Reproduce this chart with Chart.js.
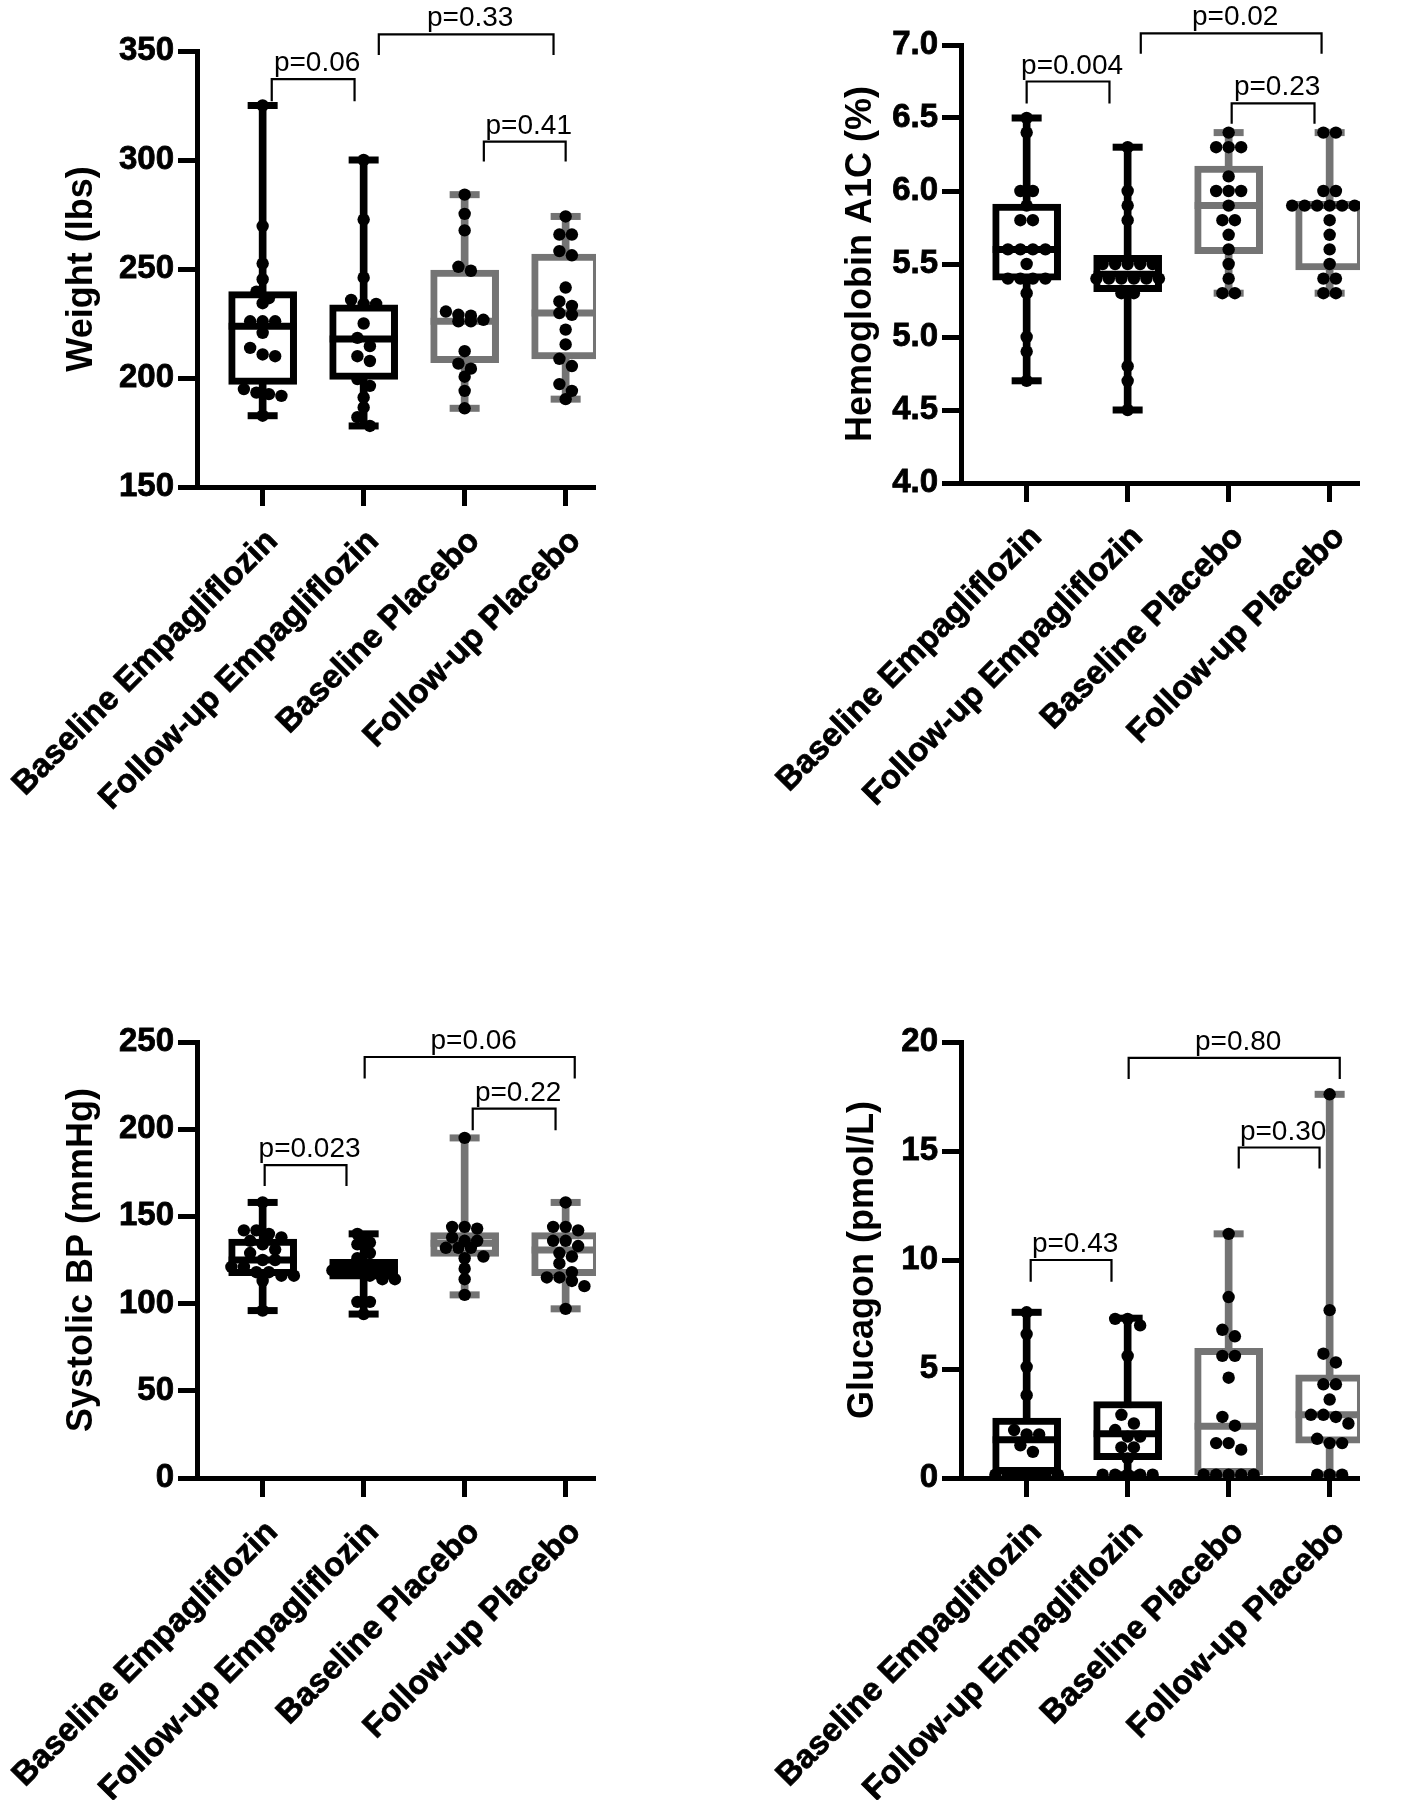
<!DOCTYPE html>
<html>
<head>
<meta charset="utf-8">
<script src="https://cdn.jsdelivr.net/npm/chart.js@4.4.1/dist/chart.umd.min.js"></script>
<style>
html,body{margin:0;padding:0;background:#ffffff;}
body{width:1407px;height:1800px;position:relative;overflow:hidden;}
canvas{position:absolute;}
</style>
</head>
<body>
<canvas id="c1"></canvas>
<canvas id="c2"></canvas>
<canvas id="c3"></canvas>
<canvas id="c4"></canvas>
<script>
// ---------------- DATA ----------------
const categories = ['Baseline Empagliflozin', 'Follow-up Empagliflozin', 'Baseline Placebo', 'Follow-up Placebo'];

// Weight (lbs)
const weightTicks = [150, 200, 250, 300, 350];
const weightBaselineEmpa = [325, 269.7, 252.5, 245.3, 239.6, 236.6, 234.3, 226, 226, 226, 220.7, 213.8, 210, 210.8, 194.9, 192.6, 193.3, 191.8, 182.7];
const weightFollowupEmpa = [300, 272.7, 246, 235.8, 234, 234, 225, 218.4, 214.6, 210, 207.8, 199.5, 196.4, 191.1, 186.5, 182, 178];
const weightBaselinePlacebo = [284.1, 275.3, 267.7, 251, 249.2, 230.5, 226, 226.7, 226, 228.6, 229, 212.3, 206.6, 204.3, 200.6, 194.1, 186.1];
const weightFollowupPlacebo = [274.1, 265.8, 265.8, 256.3, 258.2, 241.5, 235.1, 233.1, 229.8, 229, 222.2, 215.4, 208.8, 205.5, 197.2, 194.1, 190.3];
const weightMin = [182.7, 178, 186.1, 190.3];
const weightQ1 = [197.1, 199.4, 207, 208.8];
const weightMedian = [223.7, 217.9, 226, 229.8];
const weightQ3 = [239.6, 233.6, 249.5, 256.8];
const weightMax = [325, 300, 284.1, 274.1];
const weightPLabels = ['p=0.06', 'p=0.33', 'p=0.41'];
const weightPFrom = [1.09, 2.15, 3.19];
const weightPTo = [1.91, 3.88, 4.0];
const weightPBar = [337.1, 357.6, 308.4];
const weightPLeg = [326.9, 348.2, 299.3];

// Hemoglobin A1C (%)
const a1cTicks = [4.0, 4.5, 5.0, 5.5, 6.0, 6.5, 7.0];
const a1cBaselineEmpa = [6.5, 6.4, 6.0, 6.0, 5.9, 5.8, 5.8, 5.6, 5.6, 5.6, 5.6, 5.5, 5.4, 5.4, 5.4, 5.4, 5.3, 5.0, 4.9, 4.7];
const a1cFollowupEmpa = [6.3, 6.0, 5.9, 5.8, 5.5, 5.5, 5.5, 5.5, 5.5, 5.4, 5.4, 5.4, 5.4, 5.4, 5.4, 5.3, 5.3, 4.8, 4.7, 4.5];
const a1cBaselinePlacebo = [6.4, 6.3, 6.3, 6.3, 6.1, 6.0, 6.0, 6.0, 5.9, 5.8, 5.8, 5.7, 5.6, 5.5, 5.4, 5.3, 5.3];
const a1cFollowupPlacebo = [6.4, 6.4, 6.0, 6.0, 5.9, 5.9, 5.9, 5.9, 5.9, 5.9, 5.9, 5.8, 5.7, 5.6, 5.5, 5.4, 5.4, 5.3, 5.3];
const a1cMin = [4.7, 4.5, 5.3, 5.3];
const a1cQ1 = [5.39, 5.31, 5.57, 5.46];
const a1cMedian = [5.6, 5.43, 5.9, 5.9];
const a1cQ3 = [5.91, 5.56, 6.17, 5.93];
const a1cMax = [6.5, 6.3, 6.4, 6.4];
const a1cPLabels = ['p=0.004', 'p=0.02', 'p=0.23'];
const a1cPFrom = [1.0, 2.13, 3.03];
const a1cPTo = [1.82, 3.92, 3.85];
const a1cPBar = [6.75, 7.08, 6.60];
const a1cPLeg = [6.60, 6.94, 6.46];

// Systolic BP (mmHg)
const bpTicks = [0, 50, 100, 150, 200, 250];
const bpBaselineEmpa = [158, 142, 142, 140, 138, 136, 134, 131, 129, 125, 125, 121, 121, 118, 118, 116, 116, 113, 96];
const bpFollowupEmpa = [140, 135, 134, 129, 126, 122, 119, 119, 118, 116, 114, 114, 101, 101, 94];
const bpBaselinePlacebo = [195, 144, 144, 143, 138, 136, 136, 132, 132, 132, 127, 126, 120, 114, 105];
const bpFollowupPlacebo = [158, 144, 144, 142, 136, 136, 133, 129, 127, 123, 118, 115, 115, 113, 110, 97];
const bpMin = [96, 94, 105, 97];
const bpQ1 = [116, 114, 127, 116];
const bpMedian = [125, 119.5, 134.6, 130.8];
const bpQ3 = [137, 125.4, 140.7, 140.7];
const bpMax = [158, 140, 195, 158];
const bpPLabels = ['p=0.023', 'p=0.06', 'p=0.22'];
const bpPFrom = [1.02, 2.01, 3.08];
const bpPTo = [1.83, 4.09, 3.9];
const bpPBar = [179.4, 241.4, 211.8];
const bpPLeg = [167.4, 229, 199.4];

// Glucagon (pmol/L)
const gluTicks = [0, 5, 10, 15, 20];
const gluBaselineEmpa = [7.6, 6.6, 5.1, 3.8, 2.2, 2.0, 2.0, 1.5, 1.2, 0.15, 0.15, 0.15, 0.15, 0.15, 0.15];
const gluFollowupEmpa = [7.3, 7.3, 7.0, 5.6, 2.9, 2.5, 2.2, 1.9, 1.9, 1.4, 1.4, 0.9, 0.15, 0.15, 0.15, 0.15, 0.15];
const gluBaselinePlacebo = [11.2, 8.3, 6.8, 6.5, 5.6, 5.6, 4.6, 2.8, 2.4, 1.6, 1.6, 1.3, 0.15, 0.15, 0.15, 0.15, 0.15];
const gluFollowupPlacebo = [17.6, 7.7, 5.7, 5.3, 4.3, 4.3, 3.6, 2.9, 2.9, 2.8, 2.5, 1.8, 1.6, 1.6, 0.15, 0.15, 0.15];
const gluMin = [0.15, 0.15, 0.15, 0.15];
const gluQ1 = [0.2, 0.84, 0.15, 1.6];
const gluMedian = [1.76, 2.03, 2.37, 2.9];
const gluQ3 = [2.75, 3.51, 5.95, 4.73];
const gluMax = [7.6, 7.33, 11.2, 17.6];
const gluPLabels = ['p=0.43', 'p=0.80', 'p=0.30'];
const gluPFrom = [1.04, 2.01, 3.1];
const gluPTo = [1.84, 4.1, 3.9];
const gluPBar = [10.0, 19.27, 15.16];
const gluPLeg = [9.0, 18.3, 14.2];

// ---------------- STYLE / LAYOUT ----------------
const FONT = "'Liberation Sans', Arial, Helvetica, sans-serif";
const BLACK = '#000000';
const GRAY = '#747474';
const groupColors = [BLACK, BLACK, GRAY, GRAY];
const DOT_R = 6.2;
const DOT_SPACING = 12.5;
const LINE_W = 7;
const X_MIN = 0.35, X_MAX = 4.3, CAT_PX = 101;

function swarm(values, center, pxPerY, catPx) {
  const order = values.map((v, i) => i).sort((a, b) => values[b] - values[a]);
  const xs = new Array(values.length);
  let row = [];
  let rowTop = null;
  const flush = () => {
    const n = row.length;
    row.forEach((idx, j) => { xs[idx] = center + (j - (n - 1) / 2) * DOT_SPACING / catPx; });
    row = [];
  };
  for (const idx of order) {
    const py = values[idx] * pxPerY;
    if (row.length && (rowTop - py) > DOT_SPACING * 0.7) flush();
    if (!row.length) rowTop = py;
    row.push(idx);
  }
  flush();
  return values.map((v, i) => ({ x: xs[i], y: v }));
}

function buildPanel(id, P) {
  const cv = document.getElementById(id);
  cv.style.left = P.cl + 'px';
  cv.style.top = P.ct + 'px';
  cv.style.width = P.cw + 'px';
  cv.style.height = P.ch + 'px';
  cv.width = P.cw;
  cv.height = P.ch;
  const pr = P.pl + (X_MAX - X_MIN) * CAT_PX;
  const pxPerY = (P.pb - P.pt) / (P.ymax - P.ymin);

  const datasets = [];
  datasets.push({
    type: 'bar', order: 5, grouped: false, barThickness: LINE_W,
    data: P.mins.map((m, i) => ({ x: i + 1, y: [m, P.maxs[i]] })),
    backgroundColor: groupColors, borderWidth: 0
  });
  datasets.push({
    type: 'scatter', order: 4,
    data: P.mins.map((m, i) => ({ x: i + 1, y: m })).concat(P.maxs.map((m, i) => ({ x: i + 1, y: m }))),
    pointStyle: 'line', pointRadius: 15, pointBorderWidth: LINE_W,
    pointBorderColor: groupColors.concat(groupColors)
  });
  datasets.push({
    type: 'bar', order: 3, grouped: false, barThickness: 68,
    data: P.q1.map((q, i) => ({ x: i + 1, y: [q, P.q3[i]] })),
    backgroundColor: '#ffffff', borderColor: groupColors, borderWidth: LINE_W, borderSkipped: false
  });
  datasets.push({
    type: 'scatter', order: 2,
    data: P.med.map((m, i) => ({ x: i + 1, y: m })),
    pointStyle: 'line', pointRadius: 34, pointBorderWidth: LINE_W, pointBorderColor: groupColors
  });
  P.groups.forEach((g, i) => {
    datasets.push({
      type: 'scatter', order: 1,
      data: swarm(g, i + 1, pxPerY, CAT_PX),
      pointStyle: 'circle', pointRadius: DOT_R, pointBorderWidth: 0, pointBackgroundColor: BLACK
    });
  });

  const bracketPlugin = {
    id: 'brackets' + id,
    afterDraw(chart) {
      const { ctx } = chart;
      const xs = chart.scales.x, ys = chart.scales.y;
      ctx.save();
      ctx.strokeStyle = BLACK;
      ctx.lineWidth = 2.2;
      ctx.fillStyle = BLACK;
      ctx.font = '28px ' + FONT;
      ctx.textAlign = 'center';
      ctx.textBaseline = 'alphabetic';
      P.pLabels.forEach((lab, i) => {
        const x1 = xs.getPixelForValue(P.pFrom[i]);
        const x2 = xs.getPixelForValue(P.pTo[i]);
        const yb = ys.getPixelForValue(P.pBar[i]);
        const yl = ys.getPixelForValue(P.pLeg[i]);
        ctx.beginPath();
        ctx.moveTo(x1, yl); ctx.lineTo(x1, yb); ctx.lineTo(x2, yb); ctx.lineTo(x2, yl);
        ctx.stroke();
        ctx.fillText(lab, (x1 + x2) / 2 + 4, yb - 8);
      });
      ctx.restore();
    }
  };

  const axisGrid = { display: true, drawOnChartArea: false, drawTicks: true, tickLength: 19, tickWidth: 5, tickColor: BLACK };
  const axisBorder = { display: true, color: BLACK, width: 5 };

  new Chart(cv, {
    type: 'scatter',
    data: { datasets },
    options: {
      responsive: false, animation: false, devicePixelRatio: 1, events: [],
      layout: { padding: { left: 0, top: P.pt - P.ct, right: P.cl + P.cw - pr, bottom: 0 } },
      plugins: { legend: { display: false }, tooltip: { enabled: false } },
      scales: {
        x: {
          type: 'linear', min: X_MIN, max: X_MAX, offset: false,
          afterBuildTicks: s => { s.ticks = categories.map((c, i) => ({ value: i + 1 })); },
          afterFit: s => { s.height = P.ct + P.ch - P.pb; s.paddingLeft = 0; s.paddingRight = 0; },
          ticks: {
            autoSkip: false, minRotation: 45, maxRotation: 45, padding: 16, labelOffset: 10,
            color: BLACK, font: { family: FONT, size: 33, weight: 'bold' },
            textStrokeColor: BLACK, textStrokeWidth: 0.8,
            callback: v => categories[Math.round(v) - 1]
          },
          grid: Object.assign({}, axisGrid, { offset: false }),
          border: axisBorder
        },
        y: {
          type: 'linear', min: P.ymin, max: P.ymax,
          afterBuildTicks: s => { s.ticks = P.yticks.map(v => ({ value: v })); },
          afterFit: s => { s.width = P.pl - P.cl; },
          ticks: {
            padding: 4, color: BLACK, font: { family: FONT, size: 33, weight: 'bold' },
            textStrokeColor: BLACK, textStrokeWidth: 0.8,
            callback: v => Number(v).toFixed(P.dec)
          },
          grid: axisGrid,
          border: axisBorder,
          title: {
            display: true, text: P.title, color: BLACK,
            font: { family: FONT, size: 36, weight: 'bold' },
            padding: { top: P.titleX - P.cl - 21.6, bottom: 0 }
          }
        }
      }
    },
    plugins: [bracketPlugin]
  });
}

buildPanel('c1', {
  cl: 0, ct: 0, cw: 700, ch: 880, pl: 197, pt: 51, pb: 487,
  ymin: 150, ymax: 350, yticks: weightTicks, dec: 0, title: 'Weight (lbs)', titleX: 82,
  groups: [weightBaselineEmpa, weightFollowupEmpa, weightBaselinePlacebo, weightFollowupPlacebo],
  mins: weightMin, q1: weightQ1, med: weightMedian, q3: weightQ3, maxs: weightMax,
  pLabels: weightPLabels, pFrom: weightPFrom, pTo: weightPTo, pBar: weightPBar, pLeg: weightPLeg
});
buildPanel('c2', {
  cl: 704, ct: 0, cw: 703, ch: 880, pl: 961, pt: 45, pb: 483,
  ymin: 4.0, ymax: 7.0, yticks: a1cTicks, dec: 1, title: 'Hemoglobin A1C (%)', titleX: 861,
  groups: [a1cBaselineEmpa, a1cFollowupEmpa, a1cBaselinePlacebo, a1cFollowupPlacebo],
  mins: a1cMin, q1: a1cQ1, med: a1cMedian, q3: a1cQ3, maxs: a1cMax,
  pLabels: a1cPLabels, pFrom: a1cPFrom, pTo: a1cPTo, pBar: a1cPBar, pLeg: a1cPLeg
});
buildPanel('c3', {
  cl: 0, ct: 900, cw: 700, ch: 900, pl: 197, pt: 1042, pb: 1478,
  ymin: 0, ymax: 250, yticks: bpTicks, dec: 0, title: 'Systolic BP (mmHg)', titleX: 82,
  groups: [bpBaselineEmpa, bpFollowupEmpa, bpBaselinePlacebo, bpFollowupPlacebo],
  mins: bpMin, q1: bpQ1, med: bpMedian, q3: bpQ3, maxs: bpMax,
  pLabels: bpPLabels, pFrom: bpPFrom, pTo: bpPTo, pBar: bpPBar, pLeg: bpPLeg
});
buildPanel('c4', {
  cl: 704, ct: 900, cw: 703, ch: 900, pl: 961, pt: 1042, pb: 1478,
  ymin: 0, ymax: 20, yticks: gluTicks, dec: 0, title: 'Glucagon (pmol/L)', titleX: 863,
  groups: [gluBaselineEmpa, gluFollowupEmpa, gluBaselinePlacebo, gluFollowupPlacebo],
  mins: gluMin, q1: gluQ1, med: gluMedian, q3: gluQ3, maxs: gluMax,
  pLabels: gluPLabels, pFrom: gluPFrom, pTo: gluPTo, pBar: gluPBar, pLeg: gluPLeg
});
</script>
</body>
</html>
